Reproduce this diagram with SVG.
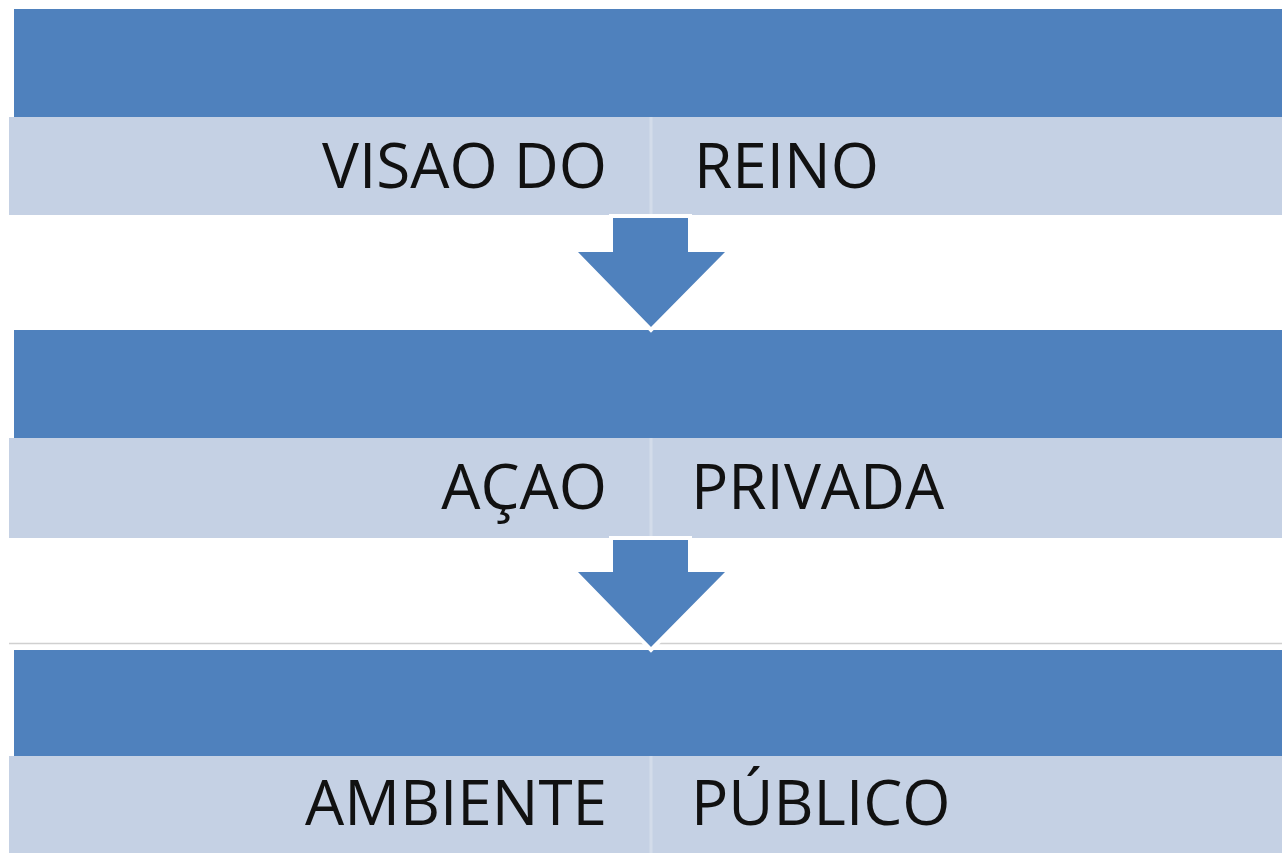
<svg xmlns="http://www.w3.org/2000/svg" width="1282" height="853" viewBox="0 0 1282 853">
<defs>
<style>
.hd{fill:#4f81bd;}
.bd{fill:#c5d1e4;}
.dv{stroke:#d3dcea;stroke-width:3;}
.tx{font-family:"Open Sans","Liberation Sans",sans-serif;font-size:62px;fill:#111111;}
.arr{fill:#4f81bd;stroke:#ffffff;stroke-width:8;stroke-linejoin:miter;paint-order:stroke;}
</style>
</defs>
<rect width="1282" height="853" fill="#ffffff"/>
<line x1="9" y1="643.5" x2="1282" y2="643.5" stroke="#d0d0d0" stroke-width="1.5"/>
<g id="node1">
<rect class="hd" x="14" y="9" width="1268" height="108"/>
<rect class="bd" x="9" y="117" width="1273" height="98"/>
<line class="dv" x1="651" y1="117" x2="651" y2="215"/>
<text class="tx" x="607" y="188" text-anchor="end">VISAO DO</text>
<text class="tx" x="694" y="188">REINO</text>
</g>
<g id="node2">
<rect class="hd" x="14" y="330" width="1268" height="108"/>
<rect class="bd" x="9" y="438" width="1273" height="100"/>
<line class="dv" x1="651" y1="438" x2="651" y2="538"/>
<text class="tx" x="607" y="509" text-anchor="end">AÇAO</text>
<text class="tx" x="691" y="509">PRIVADA</text>
</g>
<g id="node3">
<rect class="hd" x="14" y="650" width="1268" height="106"/>
<rect class="bd" x="9" y="756" width="1273" height="97"/>
<line class="dv" x1="651" y1="756" x2="651" y2="853"/>
<text class="tx" x="607" y="825" text-anchor="end">AMBIENTE</text>
<text class="tx" x="691" y="825">PÚBLICO</text>
</g>
<g id="connectors">
<path class="arr" d="M613,218 L688,218 L688,252 L725,252 L651,327 L578,252 L613,252 Z"/>
<path class="arr" d="M613,540 L688,540 L688,572 L725,572 L651,647 L578,572 L613,572 Z"/>
</g>
</svg>
